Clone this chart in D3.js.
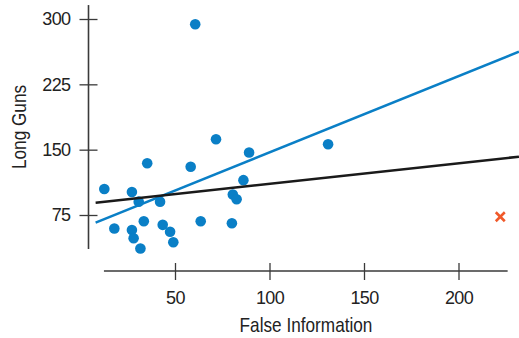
<!DOCTYPE html>
<html>
<head>
<meta charset="utf-8">
<script src="https://cdn.jsdelivr.net/npm/d3@7"></script>
<style>
  body { margin: 0; background: #fff; }
  text { font-family: "Liberation Sans", Arial, sans-serif; fill: #222; }
</style>
</head>
<body>
<div id="chart"></div>
<script>
// Values
const falseInfo = [12.6, 17.9, 27.2, 27.2, 28.1, 30.8, 31.7, 33.5, 35.3, 42.1, 43.5, 47.4,
  49.1, 58.3, 60.7, 63.6, 71.7, 80.1, 80.6, 82.6, 86.2, 89.2, 131];
const longGuns = [104.8, 59.5, 101.4, 57.8, 48.3, 90.3, 36.5, 67.8, 134.4, 90.3, 63.7, 55.8,
  43.7, 130.4, 293.9, 67.8, 161.9, 65.5, 98.5, 93, 115, 146.7, 156.2];
const outlierX = 222.1;
const outlierY = 73;

// fitted lines, endpoints
const lineX = [8, 232];
const fitWithout = [66.2, 262.5];  // blue
const fitWith = [89.1, 141.9];     // black

const xTicks = [50, 100, 150, 200];
const yTicks = [75, 150, 225, 300];

const svgWidth = 519;
const svgHeight = 338;

const svg = d3.select("#chart")
  .append("svg")
  .attr("width", svgWidth)
  .attr("height", svgHeight);

const x = d3.scaleLinear().domain([50, 200]).range([175, 458.5]);
const y = d3.scaleLinear().domain([75, 300]).range([215, 19]);

const axisColor = "#3a3a3a";
const blue = "#0a7fc6";

// y axis
const yAxis = svg.append("g")
  .attr("transform", "translate(88.5,0)")
  .call(d3.axisLeft(y).tickValues(yTicks).tickSize(9).tickPadding(9));
yAxis.select(".domain").remove();
yAxis.selectAll(".tick line").attr("x1", 9).attr("stroke", axisColor).attr("stroke-width", 1.3);
yAxis.selectAll(".tick text").attr("font-size", 18).attr("fill", "#222")
  .attr("letter-spacing", -0.6)
  .style("font-family", "'Liberation Sans', Arial, sans-serif");
yAxis.append("line")
  .attr("y1", y(316)).attr("y2", y(36))
  .attr("stroke", axisColor).attr("stroke-width", 1.6);

// x axis
const xAxis = svg.append("g")
  .attr("transform", "translate(0,271)")
  .call(d3.axisBottom(x).tickValues(xTicks).tickSize(9).tickPadding(11.5));
xAxis.select(".domain").remove();
xAxis.selectAll(".tick line").attr("y1", -8).attr("stroke", axisColor).attr("stroke-width", 1.3);
xAxis.selectAll(".tick text").attr("font-size", 18).attr("fill", "#222")
  .attr("letter-spacing", -0.6)
  .style("font-family", "'Liberation Sans', Arial, sans-serif");
xAxis.append("line")
  .attr("x1", x(12.4)).attr("x2", x(226))
  .attr("stroke", axisColor).attr("stroke-width", 1.6);

// axis titles (condensed look)
svg.append("text")
  .attr("transform", "translate(25.5,127) rotate(-90) scale(0.86,1)")
  .attr("text-anchor", "middle")
  .attr("font-size", 20)
  .text("Long Guns");

svg.append("text")
  .attr("transform", "translate(306,331.5) scale(0.86,1)")
  .attr("text-anchor", "middle")
  .attr("font-size", 20)
  .text("False Information");

// points
svg.append("g")
  .selectAll("circle")
  .data(falseInfo)
  .enter()
  .append("circle")
  .attr("cx", d => x(d))
  .attr("cy", (d, i) => y(longGuns[i]))
  .attr("r", 5.3)
  .attr("fill", blue);

// lines
const line = d3.line().x(d => x(d[0])).y(d => y(d[1]));
svg.append("path")
  .datum(lineX.map((v, i) => [v, fitWithout[i]]))
  .attr("d", line)
  .attr("fill", "none")
  .attr("stroke", blue)
  .attr("stroke-width", 2.6);
svg.append("path")
  .datum(lineX.map((v, i) => [v, fitWith[i]]))
  .attr("d", line)
  .attr("fill", "none")
  .attr("stroke", "#1a1a1a")
  .attr("stroke-width", 2.6);

// outlier cross
const s = 4.5;
const cross = svg.append("g")
  .attr("transform", `translate(${x(outlierX)},${y(outlierY)})`)
  .attr("stroke", "#f0592a")
  .attr("stroke-width", 2.6);
cross.append("line").attr("x1", -s).attr("y1", -s).attr("x2", s).attr("y2", s);
cross.append("line").attr("x1", -s).attr("y1", s).attr("x2", s).attr("y2", -s);
</script>
</body>
</html>
